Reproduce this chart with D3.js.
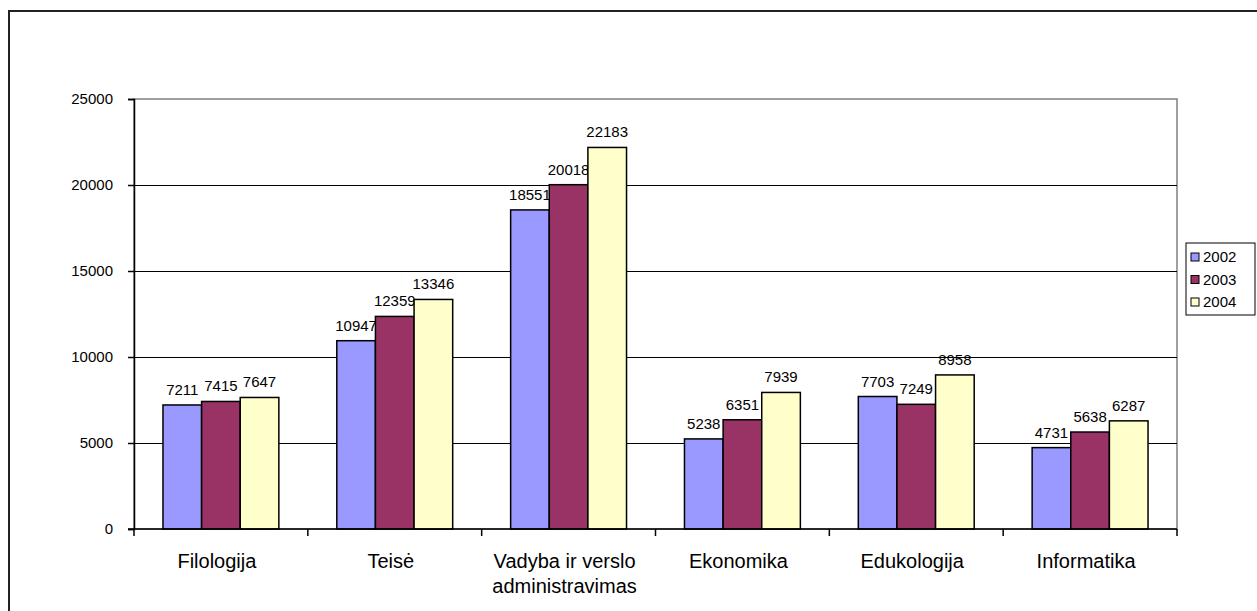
<!DOCTYPE html>
<html>
<head>
<meta charset="utf-8">
<script src="https://cdn.jsdelivr.net/npm/d3@7"></script>
<style>
    body { margin: 0; background: #fff; }
    svg { display: block; font-family: "Liberation Sans", Arial, sans-serif; }
</style>
</head>
<body>
<svg id="vis" width="1257" height="611"></svg>
<script>
const categories = [
    "Filologija",
    "Teisė",
    "Vadyba ir verslo administravimas",
    "Ekonomika",
    "Edukologija",
    "Informatika"
]

const years = ["2002", "2003", "2004"]

const values2002 = [7211, 10947, 18551, 5238, 7703, 4731]
const values2003 = [7415, 12359, 20018, 6351, 7249, 5638]
const values2004 = [7647, 13346, 22183, 7939, 8958, 6287]

const yTicks = [0, 5000, 10000, 15000, 20000, 25000]

const colors = ["#9999FF", "#993366", "#FFFFCC"]

// label lines for categories that wrap in the original
const labelLines = {
    "Vadyba ir verslo administravimas": ["Vadyba ir verslo", "administravimas"]
}

let series = [values2002, values2003, values2004]

let margin = { top: 99, left: 134, right: 80, bottom: 82 };
let svg = d3.select("#vis");
let width = +svg.attr("width");
let height = +svg.attr("height");
let plotRight = width - margin.right;
let plotBottom = height - margin.bottom;

// outer chart border (runs off the right and bottom edge)
svg.append("rect")
    .attr("x", 9)
    .attr("y", 11)
    .attr("width", width + 20)
    .attr("height", height + 20)
    .attr("fill", "none")
    .attr("stroke", "#222")
    .attr("stroke-width", 2);

let yScale = d3.scaleLinear()
    .domain([0, 25000])
    .range([plotBottom, margin.top]);

let xScale = d3.scaleBand()
    .domain(categories)
    .range([margin.left, plotRight])
    .paddingInner(0)
    .paddingOuter(0);

let band = xScale.bandwidth();
let barW = band / 4.5;

let seriesScale = d3.scaleBand()
    .domain(years)
    .range([barW * 0.75, barW * 3.75]);

let plot = svg.append("g").attr("id", "plot");

// plot area border
plot.append("rect")
    .attr("x", margin.left)
    .attr("y", margin.top)
    .attr("width", plotRight - margin.left)
    .attr("height", plotBottom - margin.top)
    .attr("fill", "#fff")
    .attr("stroke", "#808080")
    .attr("stroke-width", 1.5);

// gridlines
plot.selectAll("line.grid")
    .data(yTicks.filter(function(d) { return d > 0 && d < 25000; }))
    .enter().append("line")
    .attr("class", "grid")
    .attr("x1", margin.left)
    .attr("x2", plotRight)
    .attr("y1", function(d) { return Math.round(yScale(d)) + 0.5; })
    .attr("y2", function(d) { return Math.round(yScale(d)) + 0.5; })
    .attr("stroke", "#000")
    .attr("stroke-width", 1);

// bars
years.forEach(function(y, si) {
    plot.selectAll("rect.bar" + y)
        .data(series[si])
        .enter().append("rect")
        .attr("class", "bar" + y)
        .attr("x", function(d, i) { return xScale(categories[i]) + seriesScale(y); })
        .attr("y", function(d) { return yScale(d); })
        .attr("width", seriesScale.bandwidth())
        .attr("height", function(d) { return plotBottom - yScale(d); })
        .attr("fill", colors[si])
        .attr("stroke", "#000")
        .attr("stroke-width", 1.5);

    plot.selectAll("text.val" + y)
        .data(series[si])
        .enter().append("text")
        .attr("class", "val" + y)
        .attr("x", function(d, i) { return xScale(categories[i]) + seriesScale(y) + seriesScale.bandwidth() / 2; })
        .attr("y", function(d) { return yScale(d) - 10; })
        .attr("text-anchor", "middle")
        .attr("font-size", 15)
        .attr("fill", "#000")
        .text(function(d) { return d; });
});

// y axis
let yAxis = d3.axisLeft(yScale)
    .tickValues(yTicks)
    .tickSize(6)
    .tickPadding(15)
    .tickFormat(d3.format("d"));

let yGroup = svg.append("g")
    .attr("id", "y-axis")
    .attr("transform", "translate(" + margin.left + ",0)")
    .call(yAxis);
yGroup.select(".domain").attr("stroke", "#000").attr("stroke-width", 1.5);
yGroup.selectAll(".tick line").attr("stroke", "#000").attr("stroke-width", 1.5);
yGroup.selectAll(".tick text")
    .attr("font-size", 15)
    .attr("font-family", "Liberation Sans, Arial, sans-serif")
    .attr("fill", "#000");

// x axis
let xGroup = svg.append("g").attr("id", "x-axis");
xGroup.append("line")
    .attr("x1", margin.left - 6)
    .attr("x2", plotRight)
    .attr("y1", plotBottom)
    .attr("y2", plotBottom)
    .attr("stroke", "#000")
    .attr("stroke-width", 1.5);

let bounds = categories.map(function(c) { return xScale(c); }).concat([plotRight]);
xGroup.selectAll("line.xtick")
    .data(bounds)
    .enter().append("line")
    .attr("class", "xtick")
    .attr("x1", function(d) { return d; })
    .attr("x2", function(d) { return d; })
    .attr("y1", plotBottom)
    .attr("y2", plotBottom + 7)
    .attr("stroke", "#000")
    .attr("stroke-width", 1.5);

let xLabels = xGroup.selectAll("text")
    .data(categories)
    .enter().append("text")
    .attr("x", function(d) { return xScale(d) + band / 2 - 4; })
    .attr("y", plotBottom + 39)
    .attr("text-anchor", "middle")
    .attr("font-size", 20)
    .attr("fill", "#000");

xLabels.each(function(d) {
    let lines = labelLines[d] || [d];
    let t = d3.select(this);
    lines.forEach(function(l, i) {
        t.append("tspan")
            .attr("x", xScale(d) + band / 2 - 4)
            .attr("dy", i === 0 ? 0 : 24.5)
            .text(l);
    });
});

// legend
let legend = svg.append("g").attr("id", "legend");
legend.append("rect")
    .attr("x", 1186)
    .attr("y", 243)
    .attr("width", 69)
    .attr("height", 72)
    .attr("fill", "#fff")
    .attr("stroke", "#000")
    .attr("stroke-width", 1);

let rowY = d3.scalePoint()
    .domain(years)
    .range([257, 302]);

years.forEach(function(y, i) {
    legend.append("rect")
        .attr("x", 1191)
        .attr("y", rowY(y) - 4)
        .attr("width", 8)
        .attr("height", 8)
        .attr("fill", colors[i])
        .attr("stroke", "#000")
        .attr("stroke-width", 1);
    legend.append("text")
        .attr("x", 1203)
        .attr("y", rowY(y))
        .attr("dy", "0.36em")
        .attr("font-size", 15)
        .attr("fill", "#000")
        .text(y);
});
</script>
</body>
</html>
